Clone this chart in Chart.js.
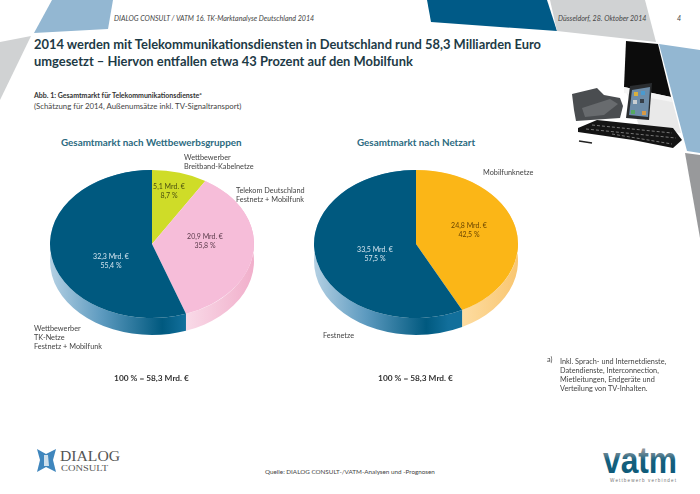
<!DOCTYPE html>
<html lang="de">
<head>
<meta charset="utf-8">
<title>TK-Marktanalyse 2014</title>
<script src="https://cdn.jsdelivr.net/npm/chart.js@4"></script>
<style>
  html, body { margin: 0; padding: 0; background: #fff; }
  #panel { position: absolute; left: 659px; top: 44px; width: 41px; height: 109px; background: #93b7d2; clip-path: polygon(0% 0%, 100% 5.5%, 100% 100%, 68.3% 98.2%); }
  #page { position: relative; width: 700px; height: 494px; font-family: Lato, "Open Sans", sans-serif; color: #333; }
  #deco { position: absolute; left: 0; top: 0; }
  canvas { position: absolute; }
  .t { position: absolute; white-space: nowrap; transform: translateY(-50%); font-size: 7.3px; line-height: 9.2px; color: #444; }
  .c { transform: translate(-50%, -50%); text-align: center; }
  .val { font-size: 7px; }
  .head { font-style: italic; font-size: 7.1px; color: #444; }
  .title { font-weight: 700; font-size: 14px; color: #1d3a46; transform-origin: left center; transform: translateY(-50%) scaleX(0.922); }
  .sub { font-weight: 700; font-size: 9.85px; color: #2b6a80; }
  .total { font-weight: 700; font-size: 8.3px; color: #333; }
</style>
</head>
<body>
<div id="panel"></div>
<div id="page">
  <svg id="deco" width="700" height="494" viewBox="0 0 700 494">
    <defs>
      <linearGradient id="vatmFill" x1="0" y1="0" x2="0" y2="1">
        <stop offset="0.25" stop-color="#8d959b"/>
        <stop offset="0.5" stop-color="#14607f"/>
        <stop offset="1" stop-color="#0c5675"/>
      </linearGradient>
    </defs>
    <path d="M52 0 L113 0 L108 29 L34 33 Z" fill="#93b7d2"/>
    <path d="M0 42 L31 36 L0 100 Z" fill="#d0d2d3"/>
    <path d="M427 0 L547 0 L557 31 L431 22 Z" fill="#005a87"/>
    <path d="M550 0 L645 0 L656 42 L557 31 Z" fill="#d0d2d3"/>
    <path d="M685 153 L700 155 L700 238 Z" fill="#98999b"/>
    <!-- photo -->
    <path d="M624 86 L671 96 L681 133 L640 128 Z" fill="#e9e9e9"/>
    <path d="M626 41 L658 44 L671 97 L624 87 Z" fill="#0c0c0c"/>
    <path d="M624 87 L671 97 L672 102 L624 93 Z" fill="#f4f4f4"/>
    <path d="M572 94 L597 88 L604 95 L620 98 L623 106 L620 118 L576 121 L574 110 Z" fill="#4a4d50"/>
    <path d="M582 108 L610 99 L618 104 L604 115 L585 117 Z" fill="#686b6e"/>
    <path d="M578 128 L597 120 L673 128 L682 140 L673 148 L633 140 L578 132 Z" fill="#141414"/>
    <g stroke="#777" stroke-width="1" stroke-dasharray="3 2">
      <line x1="592" y1="125" x2="672" y2="133"/>
      <line x1="586" y1="129" x2="676" y2="138"/>
      <line x1="612" y1="134" x2="672" y2="144"/>
    </g>
    <line x1="579" y1="141" x2="592" y2="143" stroke="#222" stroke-width="1.4"/>
    <path d="M630 86 L652 83 L649 120 L626 118 Z" fill="#2a2d30"/>
    <path d="M632 90 L650 87 L648 117 L629 115 Z" fill="#6d8ca8"/>
    <rect x="634" y="92" width="4" height="4" fill="#d9b03c"/>
    <rect x="641" y="91" width="4" height="4" fill="#4a9ad0"/>
    <rect x="633" y="100" width="4" height="4" fill="#c9ced2"/>
    <rect x="640" y="99" width="4" height="4" fill="#37404a"/>
    <rect x="631" y="110" width="4" height="4" fill="#55a860"/>
    <rect x="642" y="111" width="4" height="4" fill="#d89a45"/>
    <!-- logos -->
    <path d="M37 449 L46 454 L56 449 L53 460 L56 472 L46 467 L37 472 L40 460 Z" fill="#3f86bd"/>
    <path d="M44 455 L48 455 L49 466 L44 466 Z" fill="#cfe0ec"/>
    <text x="60" y="461" font-family="Liberation Serif" font-size="15" fill="#555" textLength="60" lengthAdjust="spacingAndGlyphs">DIALOG</text>
    <text x="61" y="471" font-family="Liberation Serif" font-size="9" fill="#555" textLength="47" lengthAdjust="spacingAndGlyphs">CONSULT</text>
    <text x="603" y="473" font-family="Liberation Sans" font-weight="700" font-size="36" fill="url(#vatmFill)" textLength="74" lengthAdjust="spacingAndGlyphs">vatm</text>
    <text x="610" y="482" font-family="Liberation Sans" font-size="4.6" fill="#777" textLength="66">Wettbewerb verbindet</text>
  </svg>

  <div class="t head" style="left:114px;top:19px">DIALOG CONSULT / VATM 16. TK-Marktanalyse Deutschland 2014</div>
  <div class="t head" style="left:558px;top:19px">Düsseldorf, 28. Oktober 2014</div>
  <div class="t head" style="left:677px;top:19px">4</div>

  <div class="t title" style="left:34px;top:44px">2014 werden mit Telekommunikationsdiensten in Deutschland rund 58,3 Milliarden Euro</div>
  <div class="t title" style="left:34px;top:61px">umgesetzt – Hiervon entfallen etwa 43 Prozent auf den Mobilfunk</div>

  <div class="t" style="left:34px;top:96px;font-weight:700;font-size:7px;color:#333">Abb. 1: Gesamtmarkt für Telekommunikationsdienste<sup style="font-size:4.5px;line-height:0">a</sup></div>
  <div class="t" style="left:34px;top:107px;font-size:7.8px">(Schätzung für 2014, Außenumsätze inkl. TV-Signaltransport)</div>

  <div class="t sub" style="left:61px;top:143px">Gesamtmarkt nach Wettbewerbsgruppen</div>
  <div class="t sub" style="left:357px;top:143px">Gesamtmarkt nach Netzart</div>

  <canvas id="marketGroups" width="224" height="224" style="left:40px;top:132px;width:224px;height:224px"></canvas>
  <canvas id="marketNetworks" width="224" height="224" style="left:304px;top:132px;width:224px;height:224px"></canvas>

  <div class="t" style="left:184px;top:161.5px">Wettbewerber<br>Breitband-Kabelnetze</div>
  <div class="t" style="left:236px;top:194.5px">Telekom Deutschland<br>Festnetz + Mobilfunk</div>
  <div class="t" style="left:34px;top:338px">Wettbewerber<br>TK-Netze<br>Festnetz + Mobilfunk</div>
  <div class="t" style="left:483px;top:173px">Mobilfunknetze</div>
  <div class="t" style="left:323px;top:336px">Festnetze</div>

  <div id="valueLabels"></div>

  <div class="t total c" style="left:151.5px;top:379px">100 % = 58,3 Mrd. €</div>
  <div class="t total c" style="left:415.5px;top:379px">100 % = 58,3 Mrd. €</div>

  <div class="t" style="left:547px;top:360px">a)</div>
  <div class="t" style="left:560px;top:374.5px">Inkl. Sprach- und Internetdienste,<br>Datendienste, Interconnection,<br>Mietleitungen, Endgeräte und<br>Verteilung von TV-Inhalten.</div>

  <div class="t" style="left:265px;top:472px;font-size:6.3px">Quelle: DIALOG CONSULT-/VATM-Analysen und -Prognosen</div>
</div>

<script>
// left pie: market by competitor group
const groupNames = ["Wettbewerber Breitband-Kabelnetze", "Telekom Deutschland Festnetz + Mobilfunk", "Wettbewerber TK-Netze Festnetz + Mobilfunk"];
const groupValues = [5.1, 20.9, 32.3];
const groupShares = ["8,7", "35,8", "55,4"];

// right pie: market by network type
const networkNames = ["Mobilfunknetze", "Festnetze"];
const networkValues = [24.8, 33.5];
const networkShares = ["42,5", "57,5"];

const blue = "#00597f";
const blueSide = ["#b4d0e3", "#5e9bc0", "#00597f", "#126f9b"];

// the pies are squashed to an ellipse and get a side wall, so they look tilted
const squash = 74 / 102;
const wallDepth = 17;

const tiltPlugin = {
    id: "tilt",
    beforeDatasetsDraw(chart, args, opts) {
        const ctx = chart.ctx;
        const arcs = chart.getDatasetMeta(0).data;
        const cy = arcs[0].y;
        ctx.save();
        ctx.translate(0, cy);
        ctx.scale(1, squash);
        ctx.translate(0, -cy);
        arcs.forEach((arc, i) => {
            const stops = opts.walls[i];
            if (!stops) return;
            const grad = ctx.createLinearGradient(arc.x - arc.outerRadius, 0, arc.x + arc.outerRadius, 0);
            if (stops.length > 2) {
                grad.addColorStop(0, stops[0]);
                grad.addColorStop(0.25, stops[1]);
                grad.addColorStop(0.55, stops[2]);
                grad.addColorStop(0.66, stops[3]);
            } else {
                grad.addColorStop(0.65, stops[0]);
                grad.addColorStop(1, stops[1]);
            }
            ctx.beginPath();
            ctx.arc(arc.x, arc.y, arc.outerRadius, arc.startAngle, arc.endAngle);
            ctx.arc(arc.x, arc.y + wallDepth / squash, arc.outerRadius, arc.endAngle, arc.startAngle, true);
            ctx.closePath();
            ctx.fillStyle = grad;
            ctx.fill();
        });
    },
    afterDatasetsDraw(chart) {
        chart.ctx.restore();
    },
};

function makePie(id, names, values, colors, walls) {
    return new Chart(document.getElementById(id).getContext("2d"), {
        type: "pie",
        data: {
            labels: names,
            datasets: [{ data: values, backgroundColor: colors, borderWidth: 0 }],
        },
        options: {
            responsive: false,
            animation: false,
            layout: { padding: 10 },
            plugins: {
                legend: { display: false },
                tooltip: { enabled: false },
                tilt: { walls: walls },
            },
        },
        plugins: [tiltPlugin],
    });
}

makePie("marketGroups", groupNames, groupValues,
    ["#cfdc28", "#f6bdd9", blue],
    [null, ["#f9dce9", "#f1afcb"], blueSide]);

makePie("marketNetworks", networkNames, networkValues,
    ["#fbb617", blue],
    [["#fee2ae", "#f9c671"], blueSide]);

// value captions on the slices
function caption(value, share, x, y, color) {
    const el = document.createElement("div");
    el.className = "t c val";
    el.style.left = x + "px";
    el.style.top = y + "px";
    el.style.color = color;
    el.innerHTML = String(value).replace(".", ",") + " Mrd. €<br>" + share + " %";
    document.getElementById("valueLabels").appendChild(el);
}
caption(groupValues[0], groupShares[0], 169, 190.5, "#4a4f10");
caption(groupValues[1], groupShares[1], 205, 240.5, "#5a3a4a");
caption(groupValues[2], groupShares[2], 111, 260.5, "#d5e6f0");
caption(networkValues[0], networkShares[0], 469, 229.5, "#6a4500");
caption(networkValues[1], networkShares[1], 375, 253.5, "#d5e6f0");
</script>
</body>
</html>
